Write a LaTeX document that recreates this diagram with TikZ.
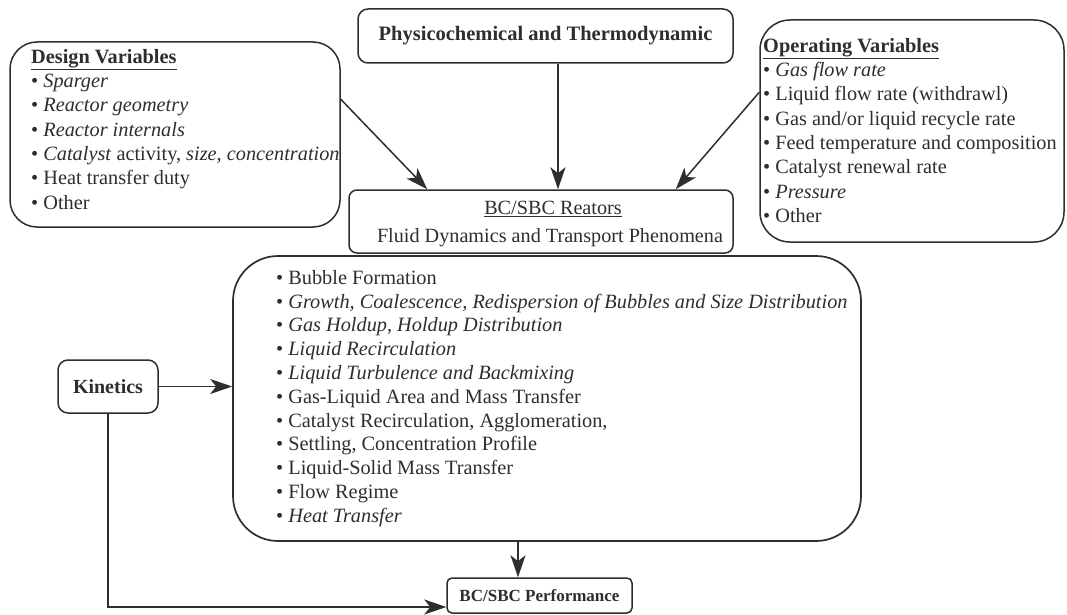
\documentclass[tikz,border=0pt]{standalone}
\usepackage{fontspec}
\setmainfont{Liberation Serif}
\usetikzlibrary{arrows.meta,calc}
\definecolor{ink}{HTML}{2E2E2E}
\begin{document}
\begin{tikzpicture}[x=1pt,y=-1pt,
  box/.style={draw=ink, line width=1.5pt, inner sep=0pt, text=ink},
  lst/.style={anchor=north west, align=left, inner sep=0pt, text=ink, font=\fontsize{20.3}{24.3}\selectfont},
  lbl/.style={inner sep=0pt, text=ink, font=\fontsize{20.2}{24}\selectfont},
  arr/.style={draw=ink, line width=1.5pt, -{Stealth[length=22pt,width=15pt,inset=6pt]}}]
\useasboundingbox[fill=white] (0,0) rectangle (1067,615);

% Design variables
\node[box, rounded corners=27pt, minimum width=330pt, minimum height=185pt] (design) at (175,134.5) {};
\node[lst] (designtxt) at (31,49) {\textbf{\underline{Design Variables}}\\
 • \textit{Sparger}\\
 • \textit{Reactor geometry}\\
 • \textit{Reactor internals}\\
 • \textit{Catalyst} activity, \textit{size, concentration}\\
 • Heat transfer duty\\
 • Other};

% Operating variables
\node[box, rounded corners=30pt, minimum width=304pt, minimum height=222pt] (operating) at (912,131) {};
\node[lst] (operatingtxt) at (763,38) {\textbf{\underline{Operating Variables}}\\
 • \textit{Gas flow rate}\\
 • Liquid flow rate (withdrawl)\\
 • Gas and/or liquid recycle rate\\
 • Feed temperature and composition\\
 • Catalyst renewal rate\\
 • \textit{Pressure}\\
 • Other};

% Physicochemical
\node[box, rounded corners=10pt, minimum width=375pt, minimum height=54pt, font=\bfseries\fontsize{20.5}{24}\selectfont] (physico) at (545.5,36) {Physicochemical and Thermodynamic};

% Reactors
\node[box, rounded corners=8pt, minimum width=384pt, minimum height=63pt] (reators) at (541,221.5) {};
\node[lbl] (reatorstitle) at (553,209) {\underline{BC/SBC Reators}};
\node[lbl] (reatorssub) at (550,238) {Fluid Dynamics and Transport Phenomena};

% Phenomena box
\node[box, line width=1.7pt, rounded corners=45pt, minimum width=628pt, minimum height=285pt] (big) at (547,398.5) {};
\node[lst, font=\fontsize{20.3}{23.8}\selectfont] (bigtxt) at (276,270) {• Bubble Formation\\
 • \textit{Growth, Coalescence, Redispersion of Bubbles and Size Distribution}\\
 • \textit{Gas Holdup, Holdup Distribution}\\
 • \textit{Liquid Recirculation}\\
 • \textit{Liquid Turbulence and Backmixing}\\
 • Gas-Liquid Area and Mass Transfer\\
 • Catalyst Recirculation, Agglomeration,\\
 • Settling, Concentration Profile\\
 • Liquid-Solid Mass Transfer\\
 • Flow Regime\\
 • \textit{Heat Transfer}};

% Kinetics
\node[box, rounded corners=10pt, minimum width=100pt, minimum height=53pt, font=\bfseries\fontsize{20}{23}\selectfont] (kinetics) at (108,386.5) {Kinetics};

% Performance
\node[box, rounded corners=5pt, minimum width=185pt, minimum height=35pt, font=\bfseries\fontsize{17}{20}\selectfont] (perf) at (539.5,595.5) {BC/SBC Performance};

% Connectors
\draw[arr] ($(design.north east)+(0,58)$) -- ($(reators.north west)+(79,0)$);
\draw[arr] ($(physico.south)+(12.5,0)$) -- ($(reators.north)+(17,0)$);
\draw[arr] ($(operating.north west)+(0,73)$) -- ($(reators.north east)+(-58,0)$);
\draw[arr] (kinetics.east) -- (kinetics.east -| big.west);
\draw[arr] ($(big.south)+(-29,0)$) -- ($(perf.north)+(-21.5,0)$);
\draw[arr] (kinetics.south) |- ($(perf.west)+(0,11.5)$);
\end{tikzpicture}
\end{document}
